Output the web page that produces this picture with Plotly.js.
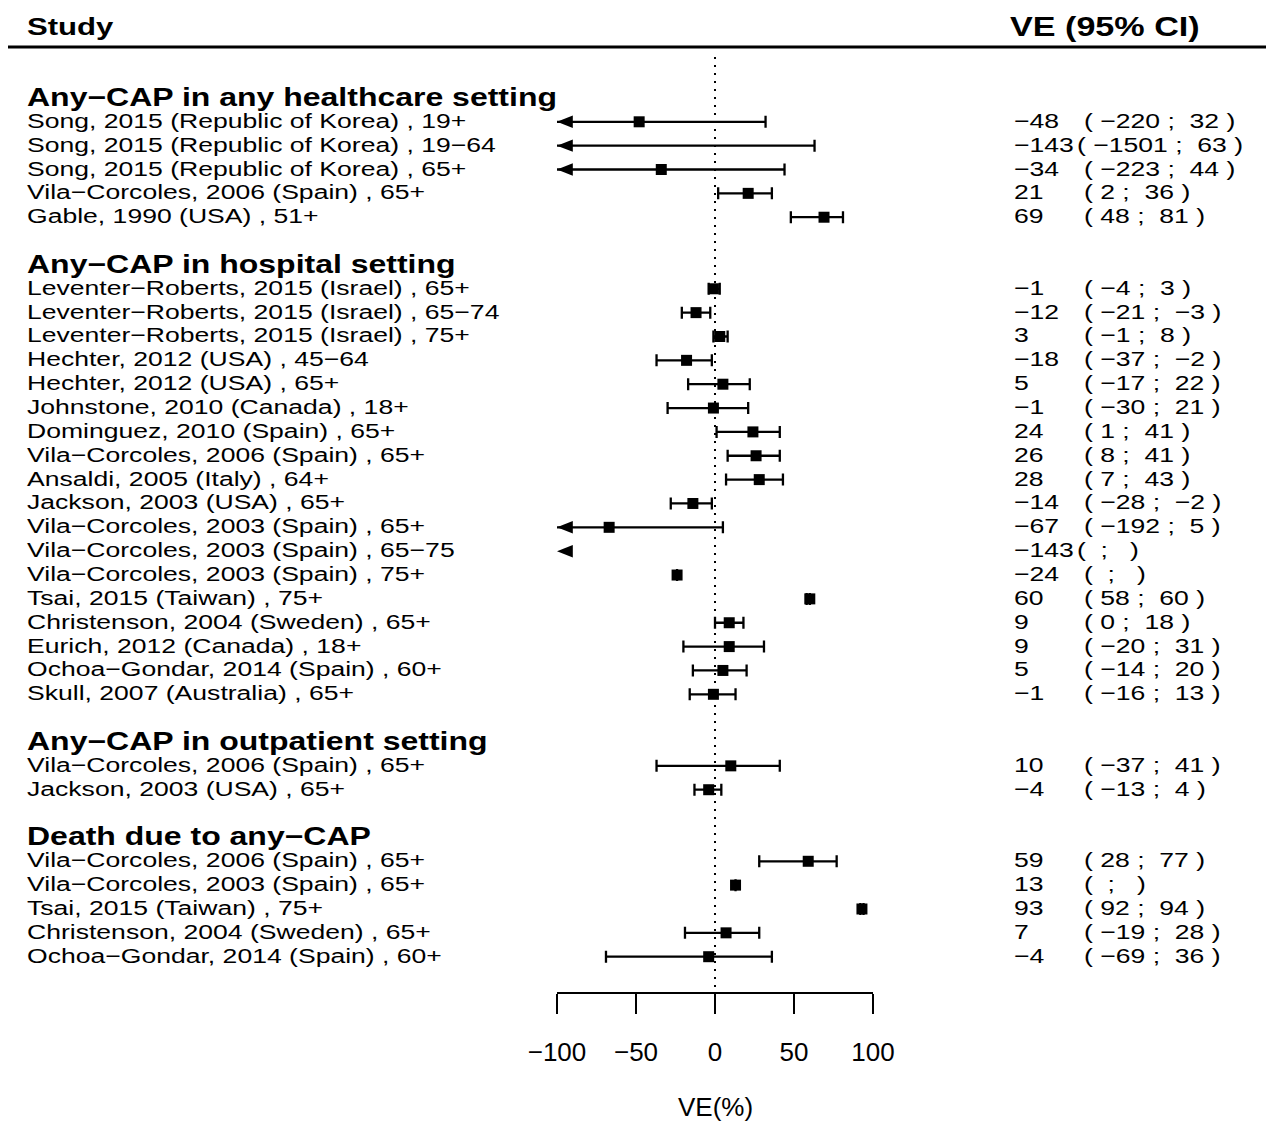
<!DOCTYPE html>
<html><head><meta charset="utf-8">
<script src="https://cdn.plot.ly/plotly-3.0.1.min.js"></script>
<style>
html,body{margin:0;padding:0;background:#fff;}
#chart{width:1276px;height:1122px;}
text.annotation-text[text-anchor="start"]{transform-box:fill-box;transform-origin:0 50%;transform:scaleX(1.265);}
</style></head><body><div id="chart"></div>
<script>
// ---------------- data ----------------
const groupTitles = [
  "Any\u2212CAP in any healthcare setting",
  "Any\u2212CAP in hospital setting",
  "Any\u2212CAP in outpatient setting",
  "Death due to any\u2212CAP"
];
const groupSizes = [5, 18, 2, 5];
const studies = [
  "Song, 2015 (Republic of Korea) , 19+",
  "Song, 2015 (Republic of Korea) , 19\u221264",
  "Song, 2015 (Republic of Korea) , 65+",
  "Vila\u2212Corcoles, 2006 (Spain) , 65+",
  "Gable, 1990 (USA) , 51+",
  "Leventer\u2212Roberts, 2015 (Israel) , 65+",
  "Leventer\u2212Roberts, 2015 (Israel) , 65\u221274",
  "Leventer\u2212Roberts, 2015 (Israel) , 75+",
  "Hechter, 2012 (USA) , 45\u221264",
  "Hechter, 2012 (USA) , 65+",
  "Johnstone, 2010 (Canada) , 18+",
  "Dominguez, 2010 (Spain) , 65+",
  "Vila\u2212Corcoles, 2006 (Spain) , 65+",
  "Ansaldi, 2005 (Italy) , 64+",
  "Jackson, 2003 (USA) , 65+",
  "Vila\u2212Corcoles, 2003 (Spain) , 65+",
  "Vila\u2212Corcoles, 2003 (Spain) , 65\u221275",
  "Vila\u2212Corcoles, 2003 (Spain) , 75+",
  "Tsai, 2015 (Taiwan) , 75+",
  "Christenson, 2004 (Sweden) , 65+",
  "Eurich, 2012 (Canada) , 18+",
  "Ochoa\u2212Gondar, 2014 (Spain) , 60+",
  "Skull, 2007 (Australia) , 65+",
  "Vila\u2212Corcoles, 2006 (Spain) , 65+",
  "Jackson, 2003 (USA) , 65+",
  "Vila\u2212Corcoles, 2006 (Spain) , 65+",
  "Vila\u2212Corcoles, 2003 (Spain) , 65+",
  "Tsai, 2015 (Taiwan) , 75+",
  "Christenson, 2004 (Sweden) , 65+",
  "Ochoa\u2212Gondar, 2014 (Spain) , 60+"
];
const ve     = [-48, -143, -34, 21, 69,  -1, -12, 3, -18, 5, -1, 24, 26, 28, -14, -67, -143, -24, 60, 9, 9, 5, -1,  10, -4,  59, 13, 93, 7, -4];
const ciLow  = [-220, -1501, -223, 2, 48,  -4, -21, -1, -37, -17, -30, 1, 8, 7, -28, -192, null, null, 58, 0, -20, -14, -16,  -37, -13,  28, null, 92, -19, -69];
const ciHigh = [32, 63, 44, 36, 81,  3, -3, 8, -2, 22, 21, 41, 41, 43, -2, 5, null, null, 60, 18, 31, 20, 13,  41, 4,  77, null, 94, 28, 36];
const xTicks = [-100, -50, 0, 50, 100];
const xTitle = "VE(%)";
const colStudy = "Study";
const colVE = "VE (95% CI)";

// ---------------- layout helpers ----------------
const L = 557, W = 316, T = 50, H = 942;
const PX = px => (px - L) / W;
const PY = py => (T + H - py) / H;
const FONT = "Liberation Sans, Arial, Helvetica, sans-serif";
const NB = "\u00a0";
const fmt = v => (v == null ? "" : (v < 0 ? "\u2212" : "") + Math.abs(v));

// rows
const headerRows = [], studyRows = [];
let r = 0;
groupSizes.forEach(n => {
  headerRows.push(r); r++;
  for (let k = 0; k < n; k++) { studyRows.push(r); r++; }
  r++;
});

const annotations = [];
const baseAnn = {showarrow: false, borderpad: 0, borderwidth: 0, xanchor: "left", yanchor: "middle", align: "left"};
annotations.push(Object.assign({}, baseAnn, {xref: "paper", yref: "paper", x: PX(27), y: PY(26), text: colStudy,
  font: {family: FONT, size: 24.6, color: "black", weight: "bold"}}));
annotations.push(Object.assign({}, baseAnn, {xref: "paper", yref: "paper", x: PX(1010), y: PY(26), text: colVE,
  font: {family: FONT, size: 27, color: "black", weight: "bold"}}));
groupTitles.forEach((g, i) => {
  annotations.push(Object.assign({}, baseAnn, {xref: "paper", yref: "y", x: PX(27), y: headerRows[i], yshift: 1, text: g,
    font: {family: FONT, size: 25.3, color: "black", weight: "bold"}}));
});
studies.forEach((s, i) => {
  const fnt = {family: FONT, size: 21, color: "black"};
  annotations.push(Object.assign({}, baseAnn, {xref: "paper", yref: "y", x: PX(27), y: studyRows[i], yshift: 1, text: s, font: fnt}));
  const est = fmt(ve[i]);
  annotations.push(Object.assign({}, baseAnn, {xref: "paper", yref: "y", x: PX(1014), y: studyRows[i], yshift: 1, text: est, font: fnt}));
  const ci = "(" + NB + fmt(ciLow[i]) + NB + ";" + NB + NB + fmt(ciHigh[i]) + NB + ")";
  annotations.push(Object.assign({}, baseAnn, {xref: "paper", yref: "y", x: PX(est.length >= 4 ? 1077 : 1084), y: studyRows[i], yshift: 1, text: ci, font: fnt}));
});
annotations.push({showarrow: false, xref: "paper", yref: "paper", x: 0.5, y: PY(1107), xanchor: "center", yanchor: "middle",
  align: "center", text: xTitle, font: {family: FONT, size: 26, color: "black"}});

const shapes = [
  {type: "line", xref: "paper", yref: "paper", x0: PX(8), x1: PX(1266), y0: PY(47), y1: PY(47), line: {color: "black", width: 3}},
  {type: "line", xref: "x", yref: "paper", x0: 0, x1: 0, y0: PY(987), y1: PY(51), layer: "below", line: {color: "black", width: 2, dash: "2px,6px"}}
];
// arrows for intervals that run past the left end of the axis
ve.forEach((v, i) => {
  const lo = ciLow[i];
  if ((lo != null && lo < xTicks[0]) || (lo == null && v < xTicks[0])) {
    const y = studyRows[i];
    shapes.push({type: "path", xref: "x", yref: "y",
      path: `M ${xTicks[0]},${y} L ${xTicks[0] + 10},${y - 0.26} L ${xTicks[0] + 10},${y + 0.26} Z`,
      fillcolor: "black", line: {width: 0}});
  }
});

const trace = {
  type: "scatter", mode: "markers", x: ve, y: studyRows,
  marker: {symbol: "square", size: 11, color: "black"},
  error_x: {type: "data", symmetric: false,
    array: ve.map((v, i) => ciHigh[i] == null ? 0 : ciHigh[i] - v),
    arrayminus: ve.map((v, i) => ciLow[i] == null ? 0 : v - ciLow[i]),
    color: "black", thickness: 2.3, width: 6},
  hoverinfo: "skip"
};

const layout = {
  width: 1276, height: 1122,
  margin: {l: L, r: 1276 - L - W, t: T, b: 1122 - T - H, pad: 0},
  paper_bgcolor: "white", plot_bgcolor: "white", showlegend: false,
  font: {family: FONT, color: "black"},
  xaxis: {range: [xTicks[0], xTicks[xTicks.length - 1]], tickmode: "array", tickvals: xTicks,
    ticks: "outside", ticklen: 20, tickwidth: 2, tickcolor: "black",
    showline: true, linewidth: 2, linecolor: "black", showgrid: false, zeroline: false,
    tickfont: {family: FONT, size: 26, color: "black"}, ticklabelstandoff: 16, fixedrange: true},
  yaxis: {range: [37.48, -2.01], visible: false, fixedrange: true},
  shapes: shapes, annotations: annotations
};

Plotly.newPlot("chart", [trace], layout, {displayModeBar: false, staticPlot: true});
</script></body></html>
